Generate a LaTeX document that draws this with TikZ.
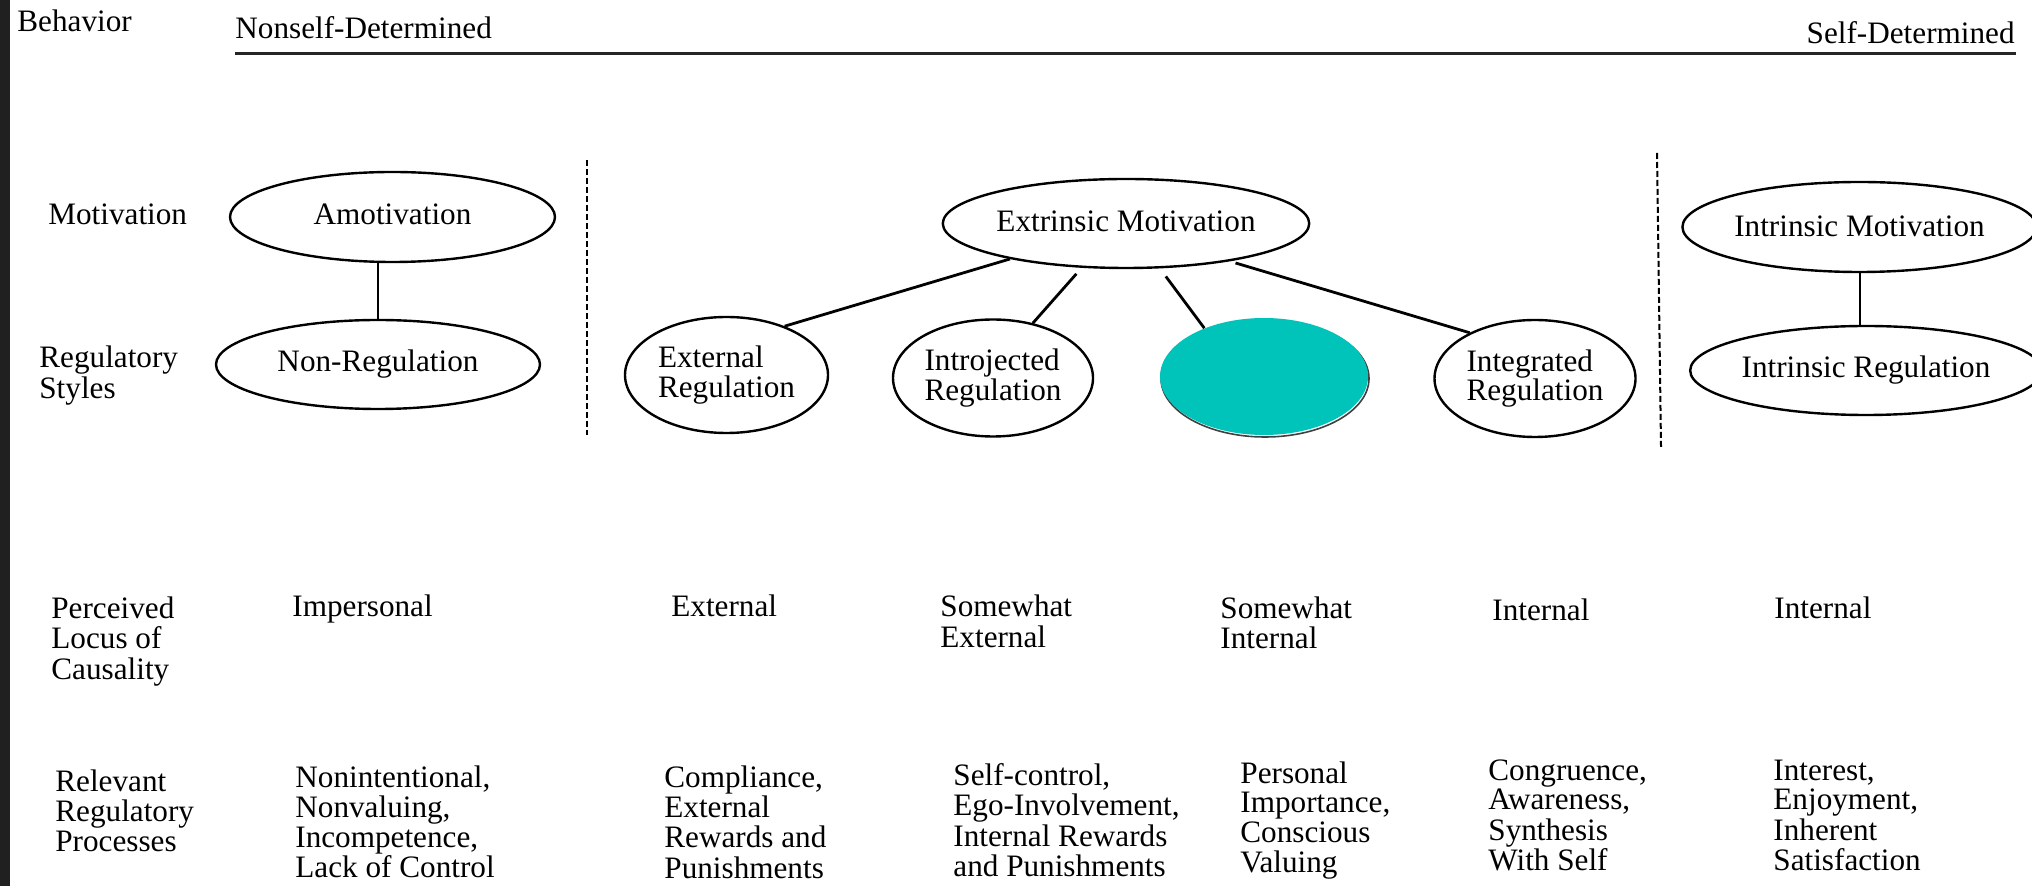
\documentclass[tikz,border=0pt]{standalone}
\usepackage{fontspec}
\setmainfont{Liberation Serif}
\usetikzlibrary{shapes.geometric}
\definecolor{tealfill}{RGB}{0,196,185}
\definecolor{strip}{RGB}{32,32,32}
\newcommand\colblock[1]{\begin{tabular}[t]{@{}l@{}}#1\end{tabular}}
\begin{document}
\begin{tikzpicture}[x=0.5pt,y=-0.5pt,
  every node/.style={font=\fontsize{15.6}{14.75}\selectfont, inner sep=0pt},
  txt/.style={anchor=base west},
  oval/.style={ellipse, draw, line width=1.2pt, inner sep=0pt, align=left},
  conn/.style={line width=1.4pt},
  vconn/.style={line width=1pt},
  divider/.style={line width=1pt, dash pattern=on 3pt off 1.5pt},
  topline/.style={line width=1.5pt, black!85},
]
\useasboundingbox (0,0) rectangle (2032,886);
\fill[white] (0,0) rectangle (2032,886);
\fill[strip] (0,0) rectangle (10,886);

% header
\node[txt] (behavior) at (17,32) {Behavior};
\node[txt] (nonself) at (235,39) {Nonself-Determined};
\node[anchor=base east] (self) at (2015,44) {Self-Determined};
\coordinate (tl) at (235,54);
\coordinate (tr) at (2016,54);
\draw[topline] (tl) -- (tr);

% row labels
\node[txt] (lmot) at (48,225) {Motivation};
\node[txt] (lreg) at (39,368) {\colblock{Regulatory\\Styles}};
\node[txt] (lloc) at (51,618) {\colblock{Perceived\\Locus of\\Causality}};
\node[txt] (lproc) at (55,791) {\colblock{Relevant\\Regulatory\\Processes}};

% dividers
\coordinate (d1t) at (587,160);
\coordinate (d1b) at (587,435);
\coordinate (d2t) at (1657,153);
\coordinate (d2b) at (1661,447);
\draw[divider] (d1t) -- (d1b);
\draw[divider] (d2t) -- (d2b);

% ovals
\node[oval, minimum width=162.5pt, minimum height=45pt] (amo) at (392.5,217) {\raisebox{2.5pt}{Amotivation}};
\node[oval, minimum width=162pt, minimum height=44.5pt] (nonreg) at (378,364.5) {Non-Regulation};
\node[oval, minimum width=163pt, minimum height=44.5pt] (ext) at (1126,223.5) {\raisebox{2pt}{Extrinsic Motivation}};
\node[oval, minimum width=101.5pt, minimum height=58pt] (er) at (726.5,375) {External\\Regulation};
\node[oval, minimum width=100pt, minimum height=58.5pt] (ir) at (993,378) {Introjected\\Regulation};
\node[ellipse, draw=black!75, line width=0.8pt, minimum width=104pt, minimum height=58.5pt] (tealedge) at (1265,378.5) {};
\node[ellipse, fill=tealfill, minimum width=104pt, minimum height=58.5pt] (teal) at (1264,376.5) {};
\node[oval, minimum width=100.5pt, minimum height=58.5pt] (integ) at (1535,378.5) {Integrated\\Regulation};
\node[oval, minimum width=161.5pt, minimum height=45pt] (im) at (1859.5,227) {\raisebox{1pt}{Intrinsic Motivation}};
\node[oval, minimum width=161pt, minimum height=44.5pt] (ireg) at (1866,370.5) {Intrinsic Regulation};

% connectors
\draw[vconn] (nonreg.north) -- (nonreg.north |- amo.south);
\draw[vconn] (im.south) -- (im.south |- ireg.north);
\draw[conn] (ext.197) -- (er.40);
\draw[conn, shorten <=4pt] (ext.225) -- (ir.54);
\draw[conn, shorten <=5pt] (ext.-53) -- (teal.141);
\draw[conn, shorten <=3pt] (ext.-20) -- (integ.145);

% locus row
\node[txt] (loc1) at (292,617) {Impersonal};
\node[txt] (loc2) at (671,617) {External};
\node[txt] (loc3) at (940,617) {\colblock{Somewhat\\External}};
\node[txt] (loc4) at (1220,618) {\colblock{Somewhat\\Internal}};
\node[txt] (loc5) at (1492,620) {Internal};
\node[txt] (loc6) at (1774,618) {Internal};

% processes row
\node[txt] (p1) at (295,787) {\colblock{Nonintentional,\\Nonvaluing,\\Incompetence,\\Lack of Control}};
\node[txt] (p2) at (664,787) {\colblock{Compliance,\\External\\Rewards and\\Punishments}};
\node[txt] (p3) at (953,785) {\colblock{Self-control,\\Ego-Involvement,\\Internal Rewards\\and Punishments}};
\node[txt] (p4) at (1240,783) {\colblock{Personal\\Importance,\\Conscious\\Valuing}};
\node[txt] (p5) at (1488,780) {\colblock{Congruence,\\Awareness,\\Synthesis\\With Self}};
\node[txt] (p6) at (1773,780) {\colblock{Interest,\\Enjoyment,\\Inherent\\Satisfaction}};
\end{tikzpicture}
\end{document}
